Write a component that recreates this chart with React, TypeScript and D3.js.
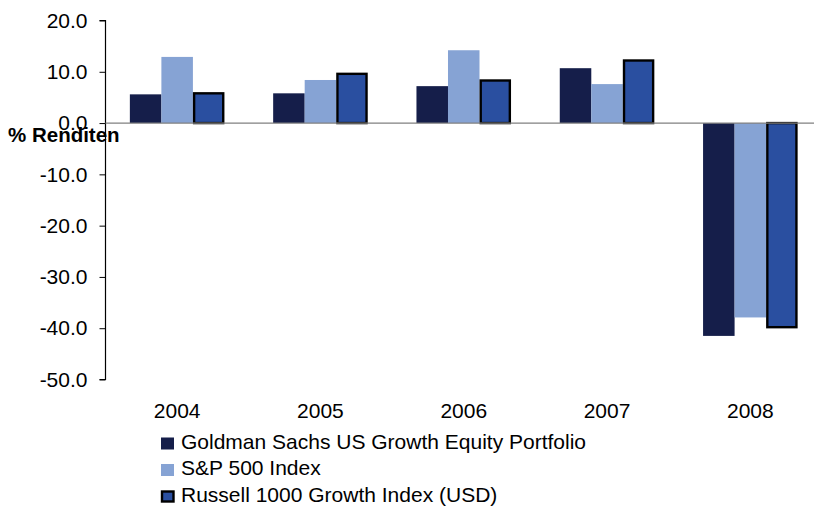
import { useEffect, useRef } from 'react';
import * as d3 from 'd3';

const years = ['2004', '2005', '2006', '2007', '2008'];
const seriesNames = [
  'Goldman Sachs US Growth Equity Portfolio',
  'S&P 500 Index',
  'Russell 1000 Growth Index (USD)',
];
const gsPortfolio = [5.6, 5.8, 7.2, 10.7, -41.5];
const sp500 = [12.9, 8.4, 14.2, 7.6, -37.9];
const russell1000 = [5.8, 9.6, 8.3, 12.2, -39.8];
const yTicks = [20, 10, 0, -10, -20, -30, -40, -50];

const colors = ['#151E4A', '#86A3D4', '#2A4FA0'];

export default function App() {
  const svgRef = useRef<SVGSVGElement>(null);

  useEffect(() => {
    if (!svgRef.current) return;
    const svg = d3.select(svgRef.current);
    svg.selectAll('*').remove();

    const font = 'Liberation Sans, Arial, sans-serif';
    const left = 105.5;
    const right = 822;

    const y = d3.scaleLinear().domain([-50, 20]).range([379.5, 20.5]);
    const x = d3.scaleBand().domain(years).range([left, right]).paddingInner(0.34).paddingOuter(0.17);
    const xs = d3.scaleBand().domain(['0', '1', '2']).range([0, x.bandwidth()]);

    const allSeries = [gsPortfolio, sp500, russell1000];

    // Y axis
    const yAxis = svg.append('g')
      .attr('transform', `translate(${left},0)`)
      .call(d3.axisLeft(y).tickValues(yTicks).tickSize(6).tickPadding(12).tickFormat(d => Number(d).toFixed(1)));
    yAxis.select('.domain').attr('stroke', '#000').attr('stroke-width', 1.2)
      .attr('d', `M-6,${y(20)}H0V${y(-50)}H-6`);
    yAxis.selectAll('.tick line').attr('stroke', '#000');
    yAxis.selectAll('text')
      .attr('font-family', font)
      .attr('font-size', 21)
      .attr('fill', '#000');

    // Bars
    allSeries.forEach((vals, si) => {
      svg.append('g')
        .selectAll('rect')
        .data(vals)
        .join('rect')
        .attr('x', (_, i) => (x(years[i]) || 0) + (xs(String(si)) || 0) + (si === 2 ? 1.2 : 0))
        .attr('width', xs.bandwidth() - (si === 2 ? 2.4 : 0))
        .attr('y', d => Math.min(y(d), y(0)))
        .attr('height', d => Math.abs(y(d) - y(0)))
        .attr('fill', colors[si])
        .attr('stroke', si === 2 ? '#000' : 'none')
        .attr('stroke-width', si === 2 ? 2.4 : 0);
    });

    // Zero line
    svg.append('line')
      .attr('x1', left).attr('x2', 814)
      .attr('y1', y(0)).attr('y2', y(0))
      .attr('stroke', '#808080')
      .attr('stroke-width', 1.2);

    // X labels
    svg.append('g')
      .selectAll('text')
      .data(years)
      .join('text')
      .attr('x', d => (x(d) || 0) + x.bandwidth() / 2)
      .attr('y', 418)
      .attr('text-anchor', 'middle')
      .attr('font-family', font)
      .attr('font-size', 21)
      .text(d => d);

    // Axis title
    svg.append('text')
      .attr('x', 8)
      .attr('y', 142)
      .attr('font-family', font)
      .attr('font-size', 20.5)
      .attr('font-weight', 'bold')
      .text('% Renditen');

    // Legend
    const legend = svg.append('g');
    const rowY = [448.5, 475, 501.5];
    seriesNames.forEach((name, i) => {
      const ly = rowY[i];
      legend.append('rect')
        .attr('x', i === 2 ? 162 : 161)
        .attr('y', ly - (i === 2 ? 10 : 11))
        .attr('width', i === 2 ? 11.5 : 13)
        .attr('height', i === 2 ? 10 : 12)
        .attr('fill', colors[i])
        .attr('stroke', i === 2 ? '#000' : 'none')
        .attr('stroke-width', i === 2 ? 2.4 : 0);
      legend.append('text')
        .attr('x', 181)
        .attr('y', ly)
        .attr('font-family', font)
        .attr('font-size', 21)
        .text(name);
    });
  }, []);

  return (
    <svg ref={svgRef} width={814} height={506} style={{ position: 'absolute', left: 0, top: 0, background: '#fff' }} />
  );
}
